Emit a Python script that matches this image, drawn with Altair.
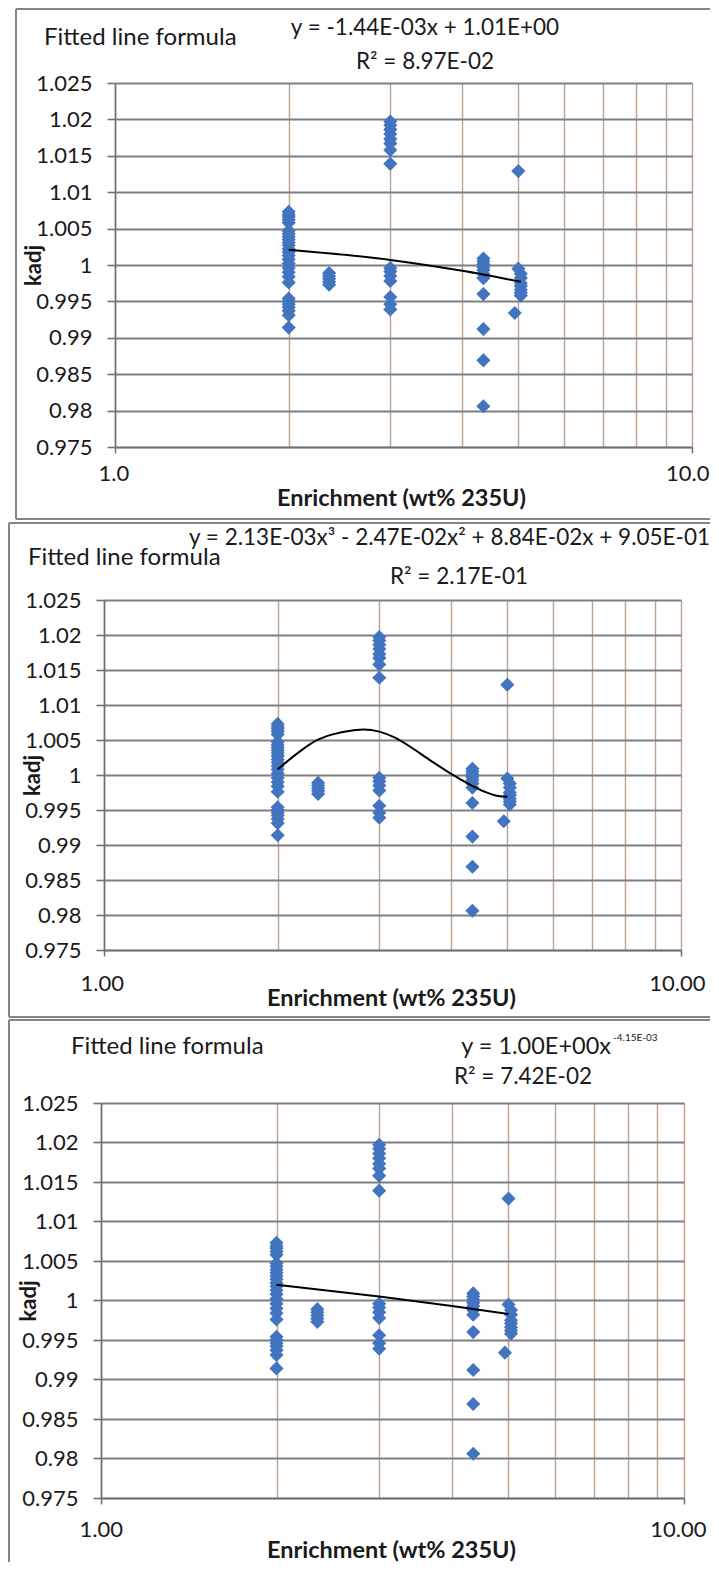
import altair as alt
import pandas as pd

FONT = "Lato"
BLUE = "#4274C0"
TEXT = "#1a1a1a"
FRAME = "#858585"
AXIS = "#707070"
HGRID = "#7f7f7f"
VGRID = "#bca28f"

# ---------------- data ----------------
col_enrich = [2.0, 2.35, 3.0, 4.35, 4.93, 5.0, 5.05]
col_kadj = [
    [1.0073, 1.0069, 1.0066, 1.0062, 1.0058, 1.0047, 1.0043, 1.0039, 1.0035,
     1.0031, 1.0027, 1.0022, 1.0018, 1.0013, 1.0008, 1.0002, 0.9996, 0.9990,
     0.9984, 0.9976, 0.9954, 0.9950, 0.9946, 0.9942, 0.9937, 0.9931, 0.9914],
    [0.9989, 0.9985, 0.9981, 0.9977, 0.9973],
    [1.0197, 1.0192, 1.0186, 1.0180, 1.0173, 1.0167, 1.0158, 1.0139,
     0.9996, 0.9991, 0.9985, 0.9978, 0.9956, 0.9946, 0.9939],
    [1.0009, 1.0005, 1.0001, 0.9997, 0.9993, 0.9988, 0.9982, 0.9960,
     0.9912, 0.9869, 0.9806],
    [0.9934],
    [1.0129, 0.9995],
    [0.9988, 0.9982, 0.9975, 0.9971, 0.9966, 0.9962, 0.9958],
]

fit_lin_x = [2.0, 3.0, 4.0, 5.05]
fit_lin_y = [1.0021, 1.0007, 0.9992, 0.9977]
fit_cub_x = [2.0, 2.18, 2.33, 2.49, 2.71, 2.82, 3.0, 3.18, 3.40, 3.63, 3.99, 4.27, 4.57, 4.82, 5.0]
fit_cub_y = [1.0008, 1.0033, 1.0049, 1.0058, 1.0064, 1.0065, 1.0062, 1.0054, 1.0040,
             1.0024, 1.0002, 0.9988, 0.9976, 0.9970, 0.9969]
fit_pow_x = [2.0, 3.0, 4.0, 5.0]
fit_pow_y = [1.0020, 1.0005, 0.9993, 0.9983]

x_ticks = [1, 2, 3, 4, 5, 6, 7, 8, 9, 10]
y_ticks = [0.975, 0.98, 0.985, 0.99, 0.995, 1.0, 1.005, 1.01, 1.015, 1.02, 1.025]
x_end_labels_1 = ["1.0", "10.0"]
x_end_labels_23 = ["1.00", "10.00"]

note_text = "Fitted line formula"
x_title = "Enrichment (wt% 235U)"
y_title = "kadj"
p1_eq = "y = -1.44E-03x + 1.01E+00"
p1_r2 = "R\u00b2 = 8.97E-02"
p2_eq = "y = 2.13E-03x\u00b3 - 2.47E-02x\u00b2 + 8.84E-02x + 9.05E-01"
p2_r2 = "R\u00b2 = 2.17E-01"
p3_eq = "y = 1.00E+00x"
p3_exp = "-4.15E-03"
p3_r2 = "R\u00b2 = 7.42E-02"

enrich, kadj = [], []
for xv, ks in zip(col_enrich, col_kadj):
    enrich += [xv] * len(ks)
    kadj += ks
pts = pd.DataFrame({"e": enrich, "k": kadj})

W = 600


def text_layer(s, x, y, size, align="left", weight="normal"):
    return alt.Chart(pd.DataFrame({"t": [s]})).mark_text(
        align=align, baseline="middle", font=FONT, fontSize=size,
        fontWeight=weight, color=TEXT
    ).encode(x=alt.value(x), y=alt.value(y), text="t:N")


def rule(x1, x2, y1, y2):
    return alt.Chart(pd.DataFrame({"r": [0]})).mark_rule(
        color=FRAME, strokeWidth=2
    ).encode(x=alt.value(x1), x2=alt.value(x2), y=alt.value(y1), y2=alt.value(y2))


def panel(H, xr, end_labels, flush_off, lab_pad, xt_x, xt_y, kadj_x, fx, fy, extras):
    lab_expr = ("datum.value == 1 ? '%s' : (datum.value == 10 ? '%s' : '')"
                % (end_labels[0], end_labels[1]))
    xs = alt.Scale(type="log", domain=[1, 10], range=xr, nice=False)
    ys = alt.Scale(domain=[0.975, 1.025], nice=False, zero=False)
    xaxis = alt.Axis(
        values=x_ticks, labelExpr=lab_expr, grid=True, gridColor=VGRID, gridWidth=1.4,
        domainColor=AXIS, domainWidth=1.6, tickColor=AXIS, tickSize=6, tickWidth=1.5,
        tickOpacity={"condition": {"test": "datum.value == 1 || datum.value == 10", "value": 1}, "value": 0},
        labelFont=FONT, labelFontSize=22, labelColor=TEXT, labelPadding=lab_pad,
        labelBaseline="middle", labelFlush=True, labelFlushOffset=flush_off,
        labelOverlap=False, title=x_title, titleFont=FONT, titleFontSize=23.5,
        titleFontWeight="bold", titleColor=TEXT, titleX=xt_x, titleY=xt_y,
        titleAlign="center", titleBaseline="middle")
    yaxis = alt.Axis(
        values=y_ticks, labelExpr="format(datum.value, '~g')", grid=True,
        gridColor=HGRID, gridWidth=1.8, domainColor=AXIS, domainWidth=1.6,
        tickColor=AXIS, tickSize=8, tickWidth=1.6, labelFont=FONT, labelFontSize=22,
        labelColor=TEXT, labelPadding=15, labelOverlap=False, offset=-xr[0],
        title=y_title, titleFont=FONT, titleFontSize=22, titleFontWeight="bold",
        titleColor=TEXT, titleX=kadj_x, titleY=H / 2, titleAngle=270,
        titleAlign="center", titleBaseline="middle")
    X = alt.X("e:Q", scale=xs, axis=xaxis)
    Y = alt.Y("k:Q", scale=ys, axis=yaxis)
    scatter = alt.Chart(pts).mark_point(
        shape="diamond", filled=True, size=200, color=BLUE, opacity=1, strokeWidth=0
    ).encode(x=X, y=Y)
    fit = alt.Chart(pd.DataFrame({"e": fx, "k": fy})).mark_line(
        color="black", strokeWidth=2, interpolate="monotone"
    ).encode(x=X, y=Y)
    return alt.layer(scatter, fit, *extras).properties(width=W, height=H)


# panel 1
H1 = 364
p1 = panel(H1, [14, 591], x_end_labels_1, 17, 20, 300, 51, -82,
           fit_lin_x, fit_lin_y, [
               rule(-85, 609, -74, -74), rule(-85, -85, -74, 436), rule(-85, 609, 436, 436),
               text_layer(note_text, -57, -45, 24),
               text_layer(p1_eq, 324, -55, 22.5, align="center"),
               text_layer(p1_r2, 324, -21, 22.5, align="center"),
           ])
# panel 2
H2 = 350
p2 = panel(H2, [3, 580], x_end_labels_23, 24, 27, 290, 48, -72,
           fit_cub_x, fit_cub_y, [
               rule(-92, 609, -77, -77), rule(-92, -92, -77, 417), rule(-92, 609, 417, 417),
               text_layer(p2_eq, 609, -62, 22.5, align="right"),
               text_layer(note_text, -73, -42, 24),
               text_layer(p2_r2, 358, -23, 22.5, align="center"),
           ])
# panel 3
H3 = 395
p3 = panel(H3, [0, 583], x_end_labels_23, 22, 25, 290, 52, -73,
           fit_pow_x, fit_pow_y, [
               rule(-92, 609, -83, -83), rule(-92, -92, -83, 459),
               text_layer(note_text, -30, -56, 24),
               text_layer(p3_eq, 510, -56, 23.5, align="right"),
               text_layer(p3_exp, 512, -65, 10),
               text_layer(p3_r2, 422, -26, 22.5, align="center"),
           ])

chart = alt.vconcat(p1, p2, p3, spacing=153, bounds="flush").properties(
    padding=0
).configure_view(strokeOpacity=0)

chart.save("out.html", embed_options={"renderer": "svg", "actions": False})
